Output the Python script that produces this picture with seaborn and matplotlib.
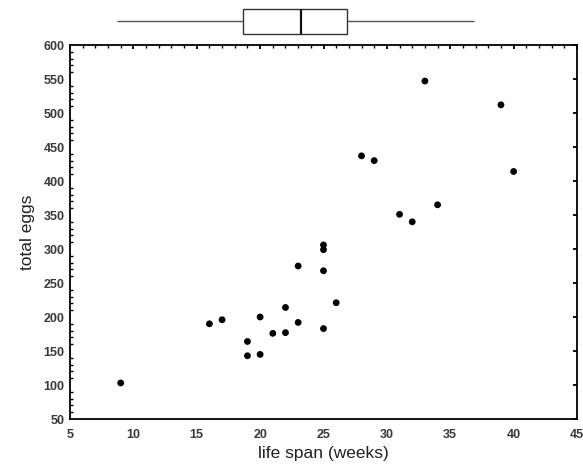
import matplotlib
matplotlib.use("Agg")
import matplotlib.pyplot as plt
from matplotlib.ticker import MultipleLocator
import seaborn as sns
import pandas as pd

life_span = [9, 16, 17, 19, 19, 20, 20, 21, 22, 22, 23, 23, 25, 25, 25, 25, 26,
             28, 29, 31, 32, 33, 34, 39, 40]
total_eggs = [103, 190, 196, 164, 143, 200, 145, 176, 214, 177, 275, 192, 306, 299, 268, 183, 221,
              437, 430, 351, 340, 547, 365, 512, 414]

x_ticks = [5, 10, 15, 20, 25, 30, 35, 40, 45]
y_ticks = [50, 100, 150, 200, 250, 300, 350, 400, 450, 500, 550, 600]

df = pd.DataFrame({"life span (weeks)": life_span, "total eggs": total_eggs})

sns.set_theme(style="white")
plt.rcParams["font.family"] = ["Liberation Sans", "DejaVu Sans"]

W, H = 583, 469
fig = plt.figure(figsize=(W / 100, H / 100), dpi=100)

# main scatter axes
ax = fig.add_axes([70 / W, 1 - 419 / H, (577 - 70) / W, (419 - 45) / H])
sns.scatterplot(data=df, x="life span (weeks)", y="total eggs", ax=ax,
                color="black", s=24, edgecolor="none", linewidth=0, zorder=3)
ax.set_xlim(x_ticks[0], x_ticks[-1])
ax.set_ylim(y_ticks[0], y_ticks[-1])
ax.set_xticks(x_ticks)
ax.set_yticks(y_ticks)
ax.xaxis.set_minor_locator(MultipleLocator(1))
ax.yaxis.set_minor_locator(MultipleLocator(10))
for sp in ax.spines.values():
    sp.set_linewidth(1.3)
    sp.set_color("black")
    sp.set_visible(True)
ax.tick_params(which="major", direction="in", length=3, width=1.3, color="black",
               top=True, right=True, labelsize=9, labelcolor="#383838")
ax.tick_params(axis="x", which="major", pad=7)
ax.tick_params(axis="y", which="major", pad=4)
ax.tick_params(axis="x", which="minor", direction="in", length=2, width=1, color="black",
               top=True, bottom=False)
ax.tick_params(axis="y", which="minor", direction="in", length=2, width=1, color="black",
               left=True, right=False)
for lab in ax.get_xticklabels() + ax.get_yticklabels():
    lab.set_fontweight("bold")
ax.set_xlabel("life span (weeks)", fontsize=12.5, color="#222222", labelpad=4)
ax.set_ylabel("total eggs", fontsize=12.5, color="#222222", labelpad=6)

# marginal boxplot on top
axb = fig.add_axes([70 / W, 1 - 38 / H, (577 - 70) / W, 33 / H])
sns.boxplot(x=life_span, ax=axb, orient="h", width=0.75, color="white",
            linecolor="#333333", linewidth=1.0, showcaps=False, whis=1.5,
            medianprops={"linewidth": 1.6, "color": "#111111"},
            whiskerprops={"color": "#555555"})
axb.set_xlim(4.945, 48.97)
axb.set_ylim(0.5, -0.5)
axb.axis("off")

fig.savefig("out.png", dpi=100)
